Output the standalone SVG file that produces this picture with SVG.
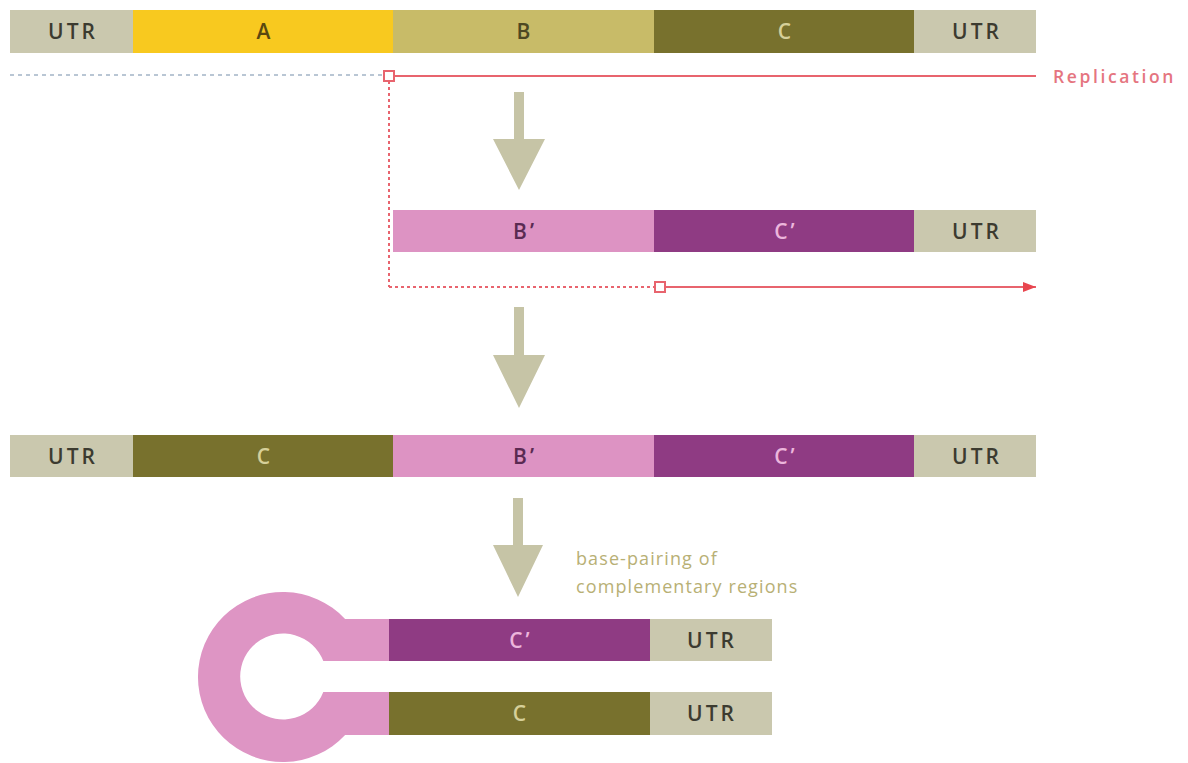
<svg xmlns="http://www.w3.org/2000/svg" width="1188" height="763" viewBox="0 0 1188 763">
<style>
.utr{fill:#cac8ae}
.a{fill:#f8c91f}
.b{fill:#c8bb68}
.c{fill:#78712d}
.bp{fill:#dd93c3}
.cp{fill:#8f3b83}
.t{font-family:"Open Sans","Liberation Sans",sans-serif;font-size:21px;font-weight:600;letter-spacing:3px;text-anchor:middle}
.dk{fill:#3c3b30}
.red{stroke:#e8646e;stroke-width:2;fill:none}
.arr{fill:#c6c4a6}
.note{font-family:"Open Sans","Liberation Sans",sans-serif;font-size:18px;letter-spacing:1.1px;fill:#b8b075}
</style>
<defs>
<marker id="ah" markerWidth="14" markerHeight="12" refX="13" refY="6" orient="auto" markerUnits="userSpaceOnUse">
<path d="M0,1 L13,6 L0,11 Z" fill="#e8464f"/>
</marker>
</defs>
<rect width="1188" height="763" fill="#ffffff"/>

<g id="row1">
<rect class="utr" x="10" y="10" width="123" height="43"/>
<rect class="a" x="133" y="10" width="260" height="43"/>
<rect class="b" x="393" y="10" width="261" height="43"/>
<rect class="c" x="654" y="10" width="260" height="43"/>
<rect class="utr" x="914" y="10" width="122" height="43"/>
<text class="t dk" x="73" y="39">UTR</text>
<text class="t" x="265" y="39" fill="#5a4810">A</text>
<text class="t" x="525" y="39" fill="#4d4822">B</text>
<text class="t" x="786" y="39" fill="#d6d09a">C</text>
<text class="t dk" x="977" y="39">UTR</text>
</g>

<g id="row2">
<rect class="bp" x="393" y="210" width="261" height="42"/>
<rect class="cp" x="654" y="210" width="260" height="42"/>
<rect class="utr" x="914" y="210" width="122" height="42"/>
<text class="t" x="525" y="239" fill="#5a2a52">B’</text>
<text class="t" x="786" y="239" fill="#ecb6dc">C’</text>
<text class="t dk" x="977" y="239">UTR</text>
</g>

<g id="row3">
<rect class="utr" x="10" y="435" width="123" height="42"/>
<rect class="c" x="133" y="435" width="260" height="42"/>
<rect class="bp" x="393" y="435" width="261" height="42"/>
<rect class="cp" x="654" y="435" width="260" height="42"/>
<rect class="utr" x="914" y="435" width="122" height="42"/>
<text class="t dk" x="73" y="464">UTR</text>
<text class="t" x="265" y="464" fill="#d6d09a">C</text>
<text class="t" x="525" y="464" fill="#5a2a52">B’</text>
<text class="t" x="786" y="464" fill="#ecb6dc">C’</text>
<text class="t dk" x="977" y="464">UTR</text>
</g>

<g id="hairpin">
<path d="M389,619 L345.1,619 A85,85 0 1 0 345.1,735 L389,735 L389,692 L323.3,692 A43,43 0 1 1 323.3,661 L389,661 Z" fill="#de95c4"/>
<rect class="cp" x="389" y="619" width="261" height="42"/>
<rect class="utr" x="650" y="619" width="122" height="42"/>
<rect class="c" x="389" y="692" width="261" height="43"/>
<rect class="utr" x="650" y="692" width="122" height="43"/>
<text class="t" x="521" y="648" fill="#ecb6dc">C’</text>
<text class="t dk" x="712" y="648">UTR</text>
<text class="t" x="521" y="721" fill="#d6d09a">C</text>
<text class="t dk" x="712" y="721">UTR</text>
</g>

<g id="arrows">
<path class="arr" d="M514,92 H524 V139 H545 L519,190 L493,139 H514 Z"/>
<path class="arr" d="M514,307 H524 V355 H545 L519,408 L493,355 H514 Z"/>
<path class="arr" d="M513,498 H523 V545 H543 L518,597 L493,545 H513 Z"/>
</g>

<g id="replication">
<line x1="10" y1="75" x2="383" y2="75" stroke="#b9c6d4" stroke-width="2" stroke-dasharray="4,4"/>
<line class="red" x1="394" y1="76" x2="1036" y2="76"/>
<line class="red" x1="389" y1="81" x2="389" y2="287" stroke-dasharray="3,3"/>
<line class="red" x1="389" y1="287" x2="655" y2="287" stroke-dasharray="3,3"/>
<line class="red" x1="665" y1="287" x2="1036" y2="287" marker-end="url(#ah)"/>
<rect x="384" y="71" width="10" height="10" fill="#ffffff" stroke="#e8646e" stroke-width="2"/>
<rect x="655" y="282" width="10" height="10" fill="#ffffff" stroke="#e8646e" stroke-width="2"/>
<text x="1053" y="83" font-family="'Open Sans','Liberation Sans',sans-serif" font-size="17.5" font-weight="600" letter-spacing="2.6" fill="#e57580">Replication</text>
</g>

<g id="label">
<text class="note" x="576" y="565">base-pairing of</text>
<text class="note" x="576" y="593">complementary regions</text>
</g>
</svg>
